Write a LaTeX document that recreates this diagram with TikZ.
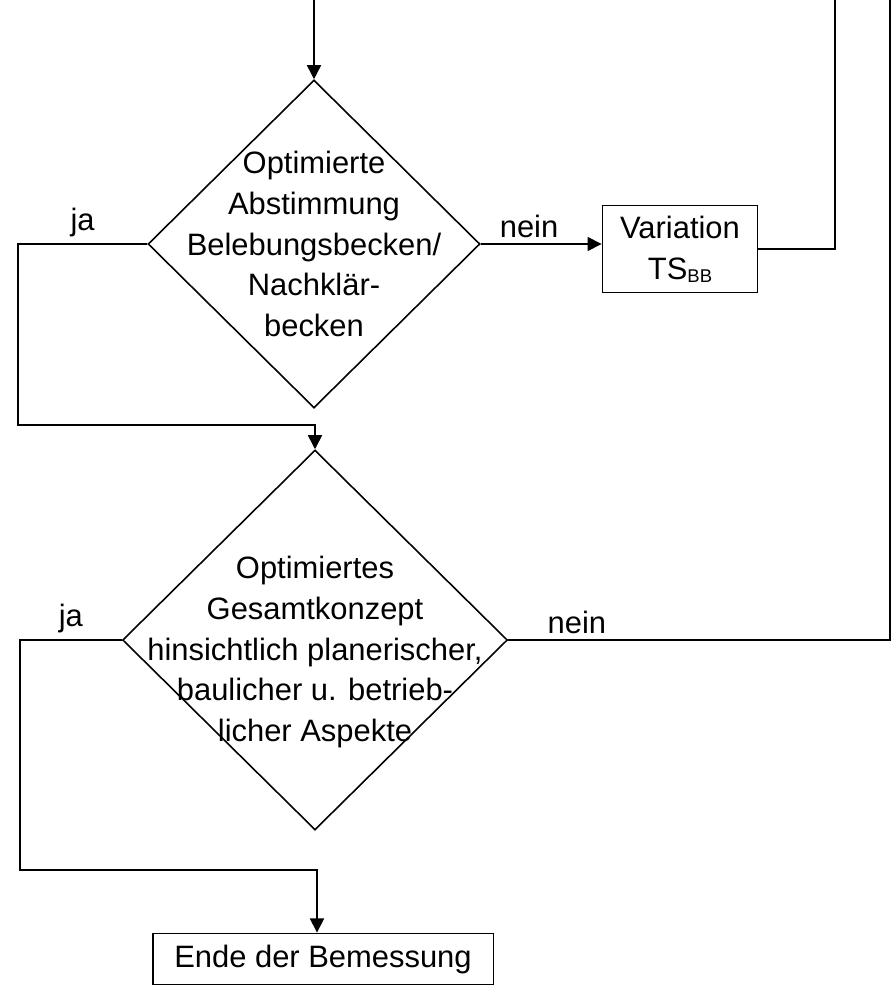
\documentclass[tikz,border=0pt]{standalone}
\usepackage{fontspec}
\setmainfont{Liberation Sans}
\usetikzlibrary{positioning, shapes.geometric, arrows.meta}

\tikzset{
    decision/.style={draw, diamond, inner sep=0pt, line width=0.9pt},
    procbox/.style={draw, rectangle, inner sep=0pt, align=center, line width=1.1pt},
    flowline/.style={line width=0.9pt},
    flowarrow/.style={flowline, -{Triangle[width=8pt,length=8pt]}}
}

\begin{document}
\begin{tikzpicture}[x=0.02cm, y=-0.02cm, font=\fontsize{17.6}{23.3}\selectfont]
    \useasboundingbox (0,0) rectangle (892,986);

    % Entscheidungen
    \node[decision, minimum width=6.64cm, minimum height=6.56cm] (d1) at (314,244) {};
    \node[align=center] (d1text) at (314,244) {Optimierte\\Abstimmung\\Belebungsbecken/\\Nachklär-\\becken};
    \node[decision, minimum width=7.7cm, minimum height=7.6cm] (d2) at (315,640) {};
    \node[align=center] (d2text) at (315,652) {Optimiertes\\Gesamtkonzept\\hinsichtlich planerischer,\\baulicher u. betrieb-\\licher Aspekte};

    % Kaesten
    \node[procbox, minimum width=3.1cm, minimum height=1.74cm] (var) at (680,249)
        {Variation\\TS\raisebox{-0.2ex}{\fontsize{10.5}{12}\selectfont BB}};
    \node[procbox, minimum width=6.82cm, minimum height=1.02cm] (ende) at (323,959) {Ende der Bemessung};

    % Hilfspunkte
    \coordinate (start) at (314,0);
    \coordinate (back1) at (835,0);
    \coordinate (ja1) at (18,244);
    \coordinate (merge1) at (315,425);
    \coordinate (ja2) at (20,640);
    \coordinate (merge2) at (317,870);
    \coordinate (corner2) at (890,640);
    \coordinate (back2) at (890,0);

    % Verbindungen
    \draw[flowarrow] (start) -- (d1.north);
    \draw[flowarrow] (d1.east) -- node[above, pos=0.4] {nein} (var.west |- d1.east);
    \draw[flowline] (var.east) -| (back1);
    \draw[flowarrow] (d1.west) -- node[above] {ja} (ja1) |- (merge1) -- (d2.north);
    \draw[flowline] (d2.east) -- node[above, pos=0.18] {nein} (corner2) -- (back2);
    \draw[flowarrow] (d2.west) -- node[above] {ja} (ja2) |- (merge2) -- (merge2 |- ende.north);
\end{tikzpicture}
\end{document}
